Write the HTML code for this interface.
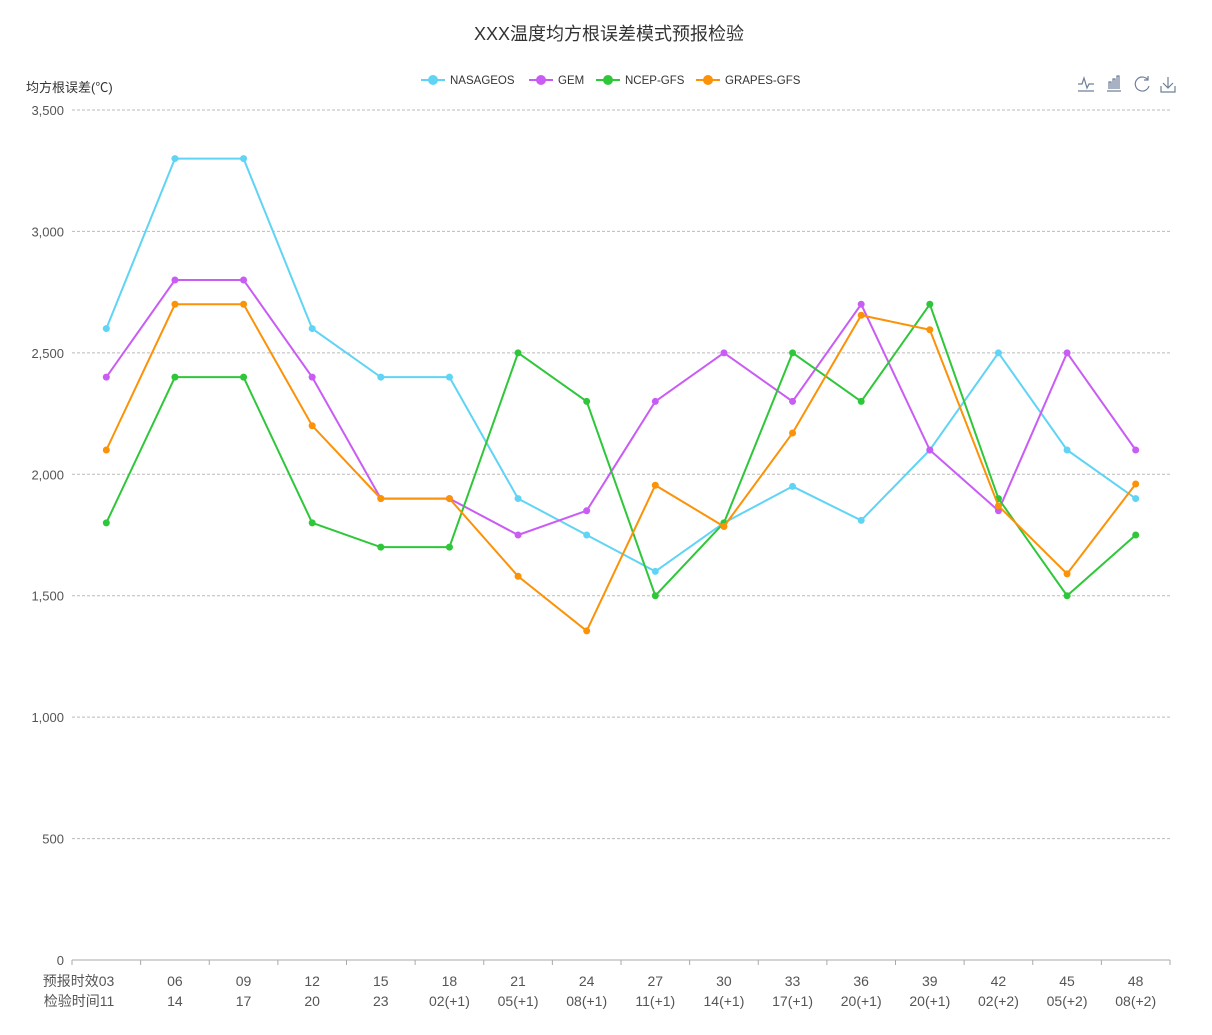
<!DOCTYPE html>
<html><head><meta charset="utf-8"><style>
body{margin:0;background:#fff;}
svg{display:block;font-family:"Liberation Sans","Noto Sans CJK SC",sans-serif;}
</style></head><body>
<svg id="c" width="1212" height="1035">
<text x="609" y="40" text-anchor="middle" font-size="18" fill="#333">XXX温度均方根误差模式预报检验</text>
<text x="26" y="92" font-size="13" fill="#333">均方根误差(℃)</text>
<g id="legend"></g>
<g stroke="#6e7f99" fill="none" stroke-width="1.2">
<path d="M1078 84 h4 l2 -6 l3 10 l2 -4 h5 M1078 91 h16"/>
<path d="M1107 91 h14 M1109 89 v-7 h2 v7 M1113 89 v-10 h2 v10 M1117 89 v-13 h2 v13"/>
<path d="M1148 80 a7 7 0 1 0 1 6 M1148 76 v4 h-4"/>
<path d="M1168 77 v11 M1163 83 l5 5 l5 -5 M1161 86 v6 h14 v-6"/>
</g>
<g id="plot"></g>
</svg>
<script>
const categories=["03","06","09","12","15","18","21","24","27","30","33","36","39","42","45","48"];
const verifyTimes=["11","14","17","20","23","02(+1)","05(+1)","08(+1)","11(+1)","14(+1)","17(+1)","20(+1)","20(+1)","02(+2)","05(+2)","08(+2)"];
const yTicks=[0,500,1000,1500,2000,2500,3000,3500];
const seriesNames=["NASAGEOS","GEM","NCEP-GFS","GRAPES-GFS"];
const seriesColors=["#5fd4f5","#c95cf5","#2fc73a","#fb9207"];
const nasageos=[2600,3300,3300,2600,2400,2400,1900,1750,1600,1800,1950,1810,2100,2500,2100,1900];
const gem=[2400,2800,2800,2400,1900,1900,1750,1850,2300,2500,2300,2700,2100,1850,2500,2100];
const ncep=[1800,2400,2400,1800,1700,1700,2500,2300,1500,1800,2500,2300,2700,1900,1500,1750];
const grapes=[2100,2700,2700,2200,1900,1900,1580,1355,1955,1785,2170,2655,2595,1870,1590,1960];
const allSeries=[nasageos,gem,ncep,grapes];
const NS="http://www.w3.org/2000/svg";
const X0=72,X1=1170,Y0=960,Y1=110,YMAX=3500;
const bw=(X1-X0)/categories.length;
const xs=i=>X0+bw*(i+0.5);
const ys=v=>Y0-(v/YMAX)*(Y0-Y1);
const plot=document.getElementById('plot');
function mk(t,a,p){const e=document.createElementNS(NS,t);for(const k in a)e.setAttribute(k,a[k]);(p||plot).appendChild(e);return e;}
const fmt=v=>v.toLocaleString('en-US');
yTicks.forEach(v=>{
 if(v>0){const g=mk('line',{x1:X0,x2:X1,y1:ys(v),y2:ys(v),stroke:'#bbb','stroke-dasharray':'3 2'});
 
 }
 const t=mk('text',{x:64,y:ys(v)+5,'text-anchor':'end','font-size':13,fill:'#555'});t.textContent=fmt(v);
 
 
});
const ax=mk('line',{x1:X0,x2:X1,y1:Y0,y2:Y0,stroke:'#aaa'});


for(let i=0;i<=categories.length;i++){const tk=mk('line',{x1:X0+bw*i,x2:X0+bw*i,y1:Y0,y2:Y0+5,stroke:'#aaa'});
 
 }
categories.forEach((c,i)=>{
 const first=i==0;
 const t1=mk('text',{x:first?xs(i)+8:xs(i),y:986,'text-anchor':first?'end':'middle','font-size':14,fill:'#555'});t1.textContent=(first?'预报时效':'')+c;
 
 
 const t2=mk('text',{x:first?xs(i)+8:xs(i),y:1006,'text-anchor':first?'end':'middle','font-size':14,fill:'#555'});t2.textContent=(first?'检验时间':'')+verifyTimes[i];
 
 
});
allSeries.forEach((s,k)=>{
 const p=mk('polyline',{points:s.map((v,i)=>xs(i)+','+ys(v)).join(' '),fill:'none',stroke:seriesColors[k],'stroke-width':2});
 
 
 s.forEach((v,i)=>{const c=mk('circle',{cx:xs(i),cy:ys(v),r:3.5,fill:seriesColors[k]});
  
  });
});
const lg=document.getElementById('legend');
const lx=[421,529,596,696];
seriesNames.forEach((n,k)=>{
 const g=mk('g',{},lg);
 
 
 mk('line',{x1:lx[k],x2:lx[k]+24,y1:80,y2:80,stroke:seriesColors[k],'stroke-width':2},g);
 mk('circle',{cx:lx[k]+12,cy:80,r:5,fill:seriesColors[k]},g);
 const t=mk('text',{x:lx[k]+29,y:84,'font-size':11.5,fill:'#333'},g);t.textContent=n;
});
</script>
</body></html>
